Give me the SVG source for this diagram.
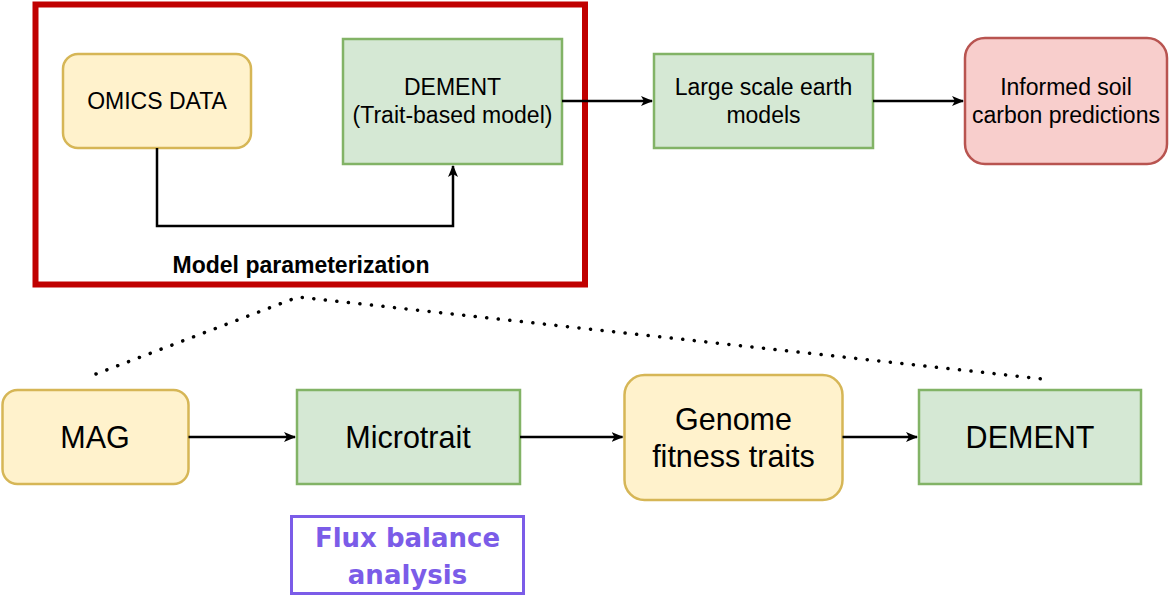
<svg xmlns="http://www.w3.org/2000/svg" width="1170" height="611" viewBox="0 0 1170 611">
<defs>
<style>
.y{fill:#fff2cc;stroke:#d6b656;stroke-width:2.5}
.g{fill:#d5e8d4;stroke:#82b366;stroke-width:2.5}
.r{fill:#f8cecc;stroke:#b85450;stroke-width:2.5}
.t{font-family:"Liberation Sans",Arial,sans-serif;fill:#000;text-anchor:middle}
.s{font-size:23px}
.l{font-size:30.5px}
.e{fill:none;stroke:#000;stroke-width:2.5}
.d{fill:none;stroke:#000;stroke-width:3.5;stroke-dasharray:0.1 11.5;stroke-linecap:round}
</style>
<marker id="a" markerWidth="12" markerHeight="10" refX="11" refY="5" orient="auto" markerUnits="userSpaceOnUse">
<path d="M0,0 L12,5 L0,10 L3,5 Z" fill="#000"/>
</marker>
</defs>
<rect width="1170" height="611" fill="#fff"/>
<g id="frame">
<rect x="35.5" y="4.5" width="549.5" height="280" fill="none" stroke="#c00000" stroke-width="6"/>
<text class="t" x="301" y="273" font-size="23" font-weight="bold">Model parameterization</text>
</g>
<g id="omics">
<rect class="y" x="63" y="54" width="188" height="94" rx="15"/>
<text class="t s" x="157" y="109">OMICS DATA</text>
</g>
<g id="dement-top">
<rect class="g" x="343" y="39" width="219" height="125"/>
<text class="t s" x="452.5" y="95">DEMENT</text>
<text class="t s" x="452.5" y="123">(Trait-based model)</text>
</g>
<g id="large">
<rect class="g" x="654" y="54" width="219" height="94"/>
<text class="t s" x="763.5" y="95">Large scale earth</text>
<text class="t s" x="763.5" y="123">models</text>
</g>
<g id="informed">
<rect class="r" x="965" y="38" width="202" height="126" rx="20"/>
<text class="t s" x="1066" y="95">Informed soil</text>
<text class="t s" x="1066" y="123">carbon predictions</text>
</g>
<g id="mag">
<rect class="y" x="2.5" y="390" width="186" height="94" rx="15"/>
<text class="t l" x="95" y="448">MAG</text>
</g>
<g id="microtrait">
<rect class="g" x="297" y="390" width="223" height="94"/>
<text class="t l" x="408" y="448">Microtrait</text>
</g>
<g id="genome">
<rect class="y" x="624.5" y="375" width="218" height="125" rx="20"/>
<text class="t l" x="733.5" y="430">Genome</text>
<text class="t l" x="733.5" y="467">fitness traits</text>
</g>
<g id="dement-bottom">
<rect class="g" x="919" y="390" width="222" height="94"/>
<text class="t l" x="1030" y="448">DEMENT</text>
</g>
<g id="flux">
<rect x="291.5" y="516.5" width="232" height="77" fill="#fff" stroke="#7b5ce8" stroke-width="3"/>
<text x="407.5" y="547" font-family="'DejaVu Sans',Verdana,sans-serif" font-weight="bold" font-size="26" fill="#7b5ce8" text-anchor="middle">Flux balance</text>
<text x="407.5" y="584" font-family="'DejaVu Sans',Verdana,sans-serif" font-weight="bold" font-size="26" fill="#7b5ce8" text-anchor="middle">analysis</text>
</g>
<g id="connectors">
<path class="e" d="M157,148 V226 H453 V166" marker-end="url(#a)"/>
<path class="e" d="M562,101 H652" marker-end="url(#a)"/>
<path class="e" d="M873,101 H963" marker-end="url(#a)"/>
<path class="e" d="M188.5,437 H295" marker-end="url(#a)"/>
<path class="e" d="M520,437 H622.5" marker-end="url(#a)"/>
<path class="e" d="M842.5,437 H917" marker-end="url(#a)"/>
<path class="d" d="M96,374 L298,297 L1043,379"/>
</g>
</svg>
